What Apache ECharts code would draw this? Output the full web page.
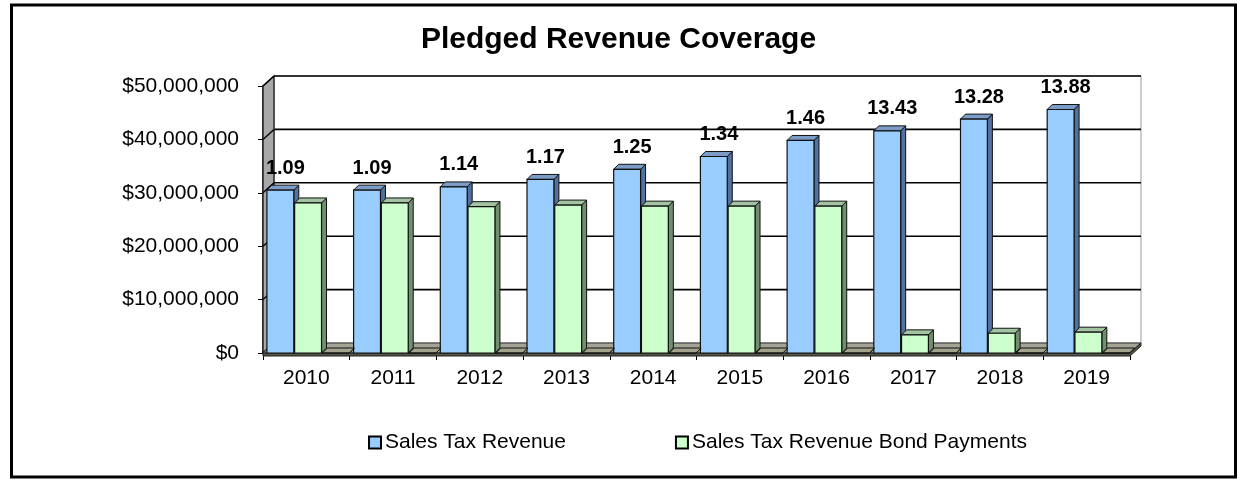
<!DOCTYPE html>
<html>
<head>
<meta charset="utf-8">
<title>Pledged Revenue Coverage</title>
<script src="https://cdn.jsdelivr.net/npm/echarts@6/dist/echarts.min.js"></script>
<style>
  html, body { margin: 0; padding: 0; background: #fff; }
  #chart { width: 1237px; height: 480px; }
</style>
</head>
<body>
<div id="chart"></div>
<script>
// Fiscal years on the category axis
const years = ['2010', '2011', '2012', '2013', '2014', '2015', '2016', '2017', '2018', '2019'];
// Pledged sales tax revenue (dollars)
const salesTaxRevenue = [30500000, 30500000, 31100000, 32500000, 34400000, 36800000, 39800000, 41600000, 43800000, 45600000];
// Debt service on the sales tax revenue bonds (dollars)
const bondPayments = [28100000, 28100000, 27400000, 27700000, 27500000, 27500000, 27500000, 3400000, 3700000, 3900000];
// Coverage ratio (revenue / bond payments), shown above each revenue column
const coverage = [1.09, 1.09, 1.14, 1.17, 1.25, 1.34, 1.46, 13.43, 13.28, 13.88];
// Value axis ticks
const yTicks = [0, 10000000, 20000000, 30000000, 40000000, 50000000];

const FONT = '"Liberation Sans", Arial, Helvetica, sans-serif';
const WALL_DX = 11, WALL_DY = 10;   // depth of the back wall
const BAR_DX = 5, BAR_DY = 5;       // depth of each column

function money(v) {
  return '$' + Number(v).toLocaleString('en-US');
}

// Side wall, floor and back-wall gridlines of the 3-D frame
function renderFrame(params, api) {
  const cs = params.coordSys;
  const xL = cs.x, xR = cs.x + cs.width;
  const yTop = api.coord([0, yTicks[yTicks.length - 1]])[1];
  const yBase = api.coord([0, yTicks[0]])[1];
  const children = [];
  // back wall
  children.push({
    type: 'rect',
    shape: { x: xL + WALL_DX, y: yTop - WALL_DY, width: xR - xL, height: yBase - yTop },
    style: { fill: '#ffffff', stroke: '#9a9a9a', lineWidth: 1 }
  });
  // gridlines on the back wall
  yTicks.forEach(function (t) {
    const y = api.coord([0, t])[1];
    if (t !== yTicks[0]) {
      children.push({
        type: 'line',
        shape: { x1: xL + WALL_DX, y1: y - WALL_DY, x2: xR + WALL_DX, y2: y - WALL_DY },
        style: { stroke: '#000', lineWidth: 1.6 }
      });
    }
  });
  // left side wall with the gridlines running across it
  children.push({
    type: 'polygon',
    shape: { points: [[xL, yTop], [xL + WALL_DX, yTop - WALL_DY], [xL + WALL_DX, yBase - WALL_DY], [xL, yBase]] },
    style: { fill: '#a8a8a8', stroke: '#222', lineWidth: 1.4 }
  });
  yTicks.forEach(function (t) {
    const y = api.coord([0, t])[1];
    children.push({
      type: 'line',
      shape: { x1: xL, y1: y, x2: xL + WALL_DX, y2: y - WALL_DY },
      style: { stroke: '#000', lineWidth: 1.4 }
    });
  });
  // floor slab
  children.push({
    type: 'polygon',
    shape: { points: [[xL, yBase], [xL + WALL_DX, yBase - WALL_DY], [xR + WALL_DX, yBase - WALL_DY], [xR, yBase]] },
    style: { fill: '#a4a496', stroke: '#333', lineWidth: 1 }
  });
  children.push({
    type: 'polygon',
    shape: { points: [[xL, yBase], [xR, yBase], [xR + WALL_DX, yBase - WALL_DY], [xR + WALL_DX, yBase - WALL_DY + 3], [xR, yBase + 3], [xL, yBase + 3]] },
    style: { fill: '#555548', stroke: '#222', lineWidth: 1 }
  });
  return { type: 'group', children: children };
}

// 3-D column: front face, top face, right side face
function columnRenderer(slot, colors, labels) {
  return function (params, api) {
    const cat = api.value(0);
    const val = api.value(1);
    const base = api.coord([cat, 0]);
    const top = api.coord([cat, val]);
    const band = api.size([1, 0])[0];
    const step = band * 0.32, w = band * 0.31;
    const x0 = base[0] - band * 0.455 + slot * step;
    const yb = base[1];
    const yt = Math.min(top[1], yb);
    const children = [
      {
        type: 'polygon',
        shape: { points: [[x0 + w, yt], [x0 + w + BAR_DX, yt - BAR_DY], [x0 + w + BAR_DX, yb - BAR_DY], [x0 + w, yb]] },
        style: { fill: colors.side, stroke: '#111', lineWidth: 1 }
      },
      {
        type: 'polygon',
        shape: { points: [[x0, yt], [x0 + w, yt], [x0 + w + BAR_DX, yt - BAR_DY], [x0 + BAR_DX, yt - BAR_DY]] },
        style: { fill: colors.top, stroke: '#111', lineWidth: 1 }
      },
      {
        type: 'rect',
        shape: { x: x0, y: yt, width: w, height: yb - yt },
        style: { fill: colors.front, stroke: '#111', lineWidth: 1.2 }
      }
    ];
    if (labels) {
      children.push({
        type: 'text',
        style: {
          text: labels[params.dataIndex].toFixed(2),
          x: x0 + w / 2 + BAR_DX,
          y: yt - BAR_DY - 7,
          align: 'center',
          verticalAlign: 'bottom',
          font: 'bold 20px ' + FONT,
          fill: '#000'
        }
      });
    }
    return { type: 'group', children: children };
  };
}

function pairs(values) {
  return values.map(function (v, i) { return [i, v]; });
}

const chart = echarts.init(document.getElementById('chart'), null, { renderer: 'canvas' });

chart.setOption({
  backgroundColor: '#ffffff',
  animation: false,
  textStyle: { fontFamily: FONT },
  title: {
    text: 'Pledged Revenue Coverage',
    left: 'center',
    top: 25,
    padding: 0,
    textStyle: { fontFamily: FONT, fontSize: 30, fontWeight: 'bold', color: '#000' }
  },
  legend: {
    data: ['Sales Tax Revenue', 'Sales Tax Revenue Bond Payments'],
    left: 368,
    top: 432,
    padding: 0,
    itemGap: 109,
    itemWidth: 12,
    itemHeight: 12,
    icon: 'rect',
    itemStyle: { borderColor: '#000', borderWidth: 2 },
    textStyle: { fontFamily: FONT, fontSize: 21, color: '#000', padding: [0, 0, 0, -1] }
  },
  grid: { left: 263, right: 107, top: 86, bottom: 127 },
  xAxis: {
    type: 'category',
    data: years,
    axisLine: { show: true, lineStyle: { color: '#000', width: 1.5 } },
    axisTick: { show: true, length: 7, lineStyle: { color: '#000', width: 1 } },
    axisLabel: { fontFamily: FONT, fontSize: 21, color: '#000', margin: 15 },
    splitLine: { show: false }
  },
  yAxis: {
    type: 'value',
    min: yTicks[0],
    max: yTicks[yTicks.length - 1],
    interval: yTicks[1] - yTicks[0],
    axisLine: { show: true, lineStyle: { color: '#000', width: 1.5 } },
    axisTick: { show: true, length: 5, lineStyle: { color: '#000', width: 1 } },
    axisLabel: { fontFamily: FONT, fontSize: 21, color: '#000', margin: 24, formatter: money },
    splitLine: { show: false }
  },
  series: [
    {
      name: 'frame',
      type: 'custom',
      silent: true,
      z: 1,
      data: [[0, 0]],
      encode: { x: 0, y: 1 },
      renderItem: renderFrame
    },
    {
      name: 'Sales Tax Revenue',
      type: 'custom',
      z: 3,
      itemStyle: { color: '#99ccff' },
      data: pairs(salesTaxRevenue),
      encode: { x: 0, y: 1 },
      renderItem: columnRenderer(0, { front: '#99ccff', top: '#7c9cc8', side: '#52719e' }, coverage)
    },
    {
      name: 'Sales Tax Revenue Bond Payments',
      type: 'custom',
      z: 4,
      itemStyle: { color: '#ccffcc' },
      data: pairs(bondPayments),
      encode: { x: 0, y: 1 },
      renderItem: columnRenderer(1, { front: '#ccffcc', top: '#a3c4a3', side: '#6f8f6f' })
    },
    {
      name: 'Coverage',
      type: 'custom',
      z: 5,
      itemStyle: { color: '#ffffff' },
      data: pairs(coverage),
      encode: { x: 0, y: 1 },
      renderItem: columnRenderer(2, { front: '#ffffff', top: '#a3a38c', side: '#6f6f60' })
    }
  ],
  graphic: [
    {
      type: 'rect',
      z: 100,
      silent: true,
      shape: { x: 11.5, y: 5, width: 1224, height: 472 },
      style: { fill: null, stroke: '#000', lineWidth: 3 }
    }
  ]
});
</script>
</body>
</html>
